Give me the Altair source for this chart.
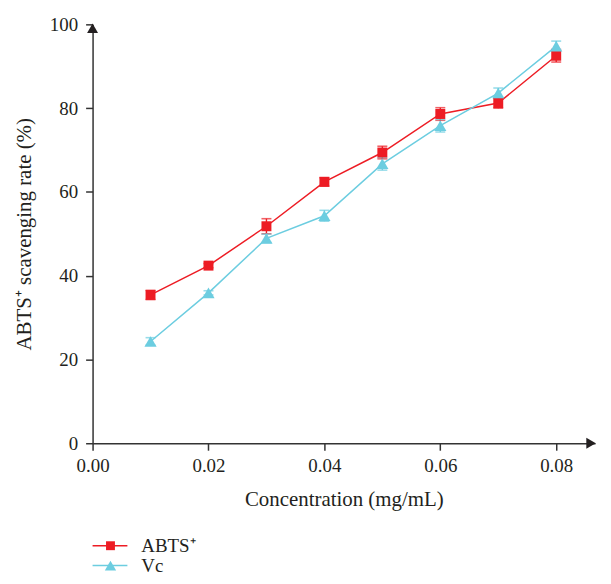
import altair as alt
import pandas as pd

# ---- data ----
conc = [0.01, 0.02, 0.03, 0.04, 0.05, 0.06, 0.07, 0.08]
abts = [35.4, 42.4, 51.8, 62.4, 69.4, 78.6, 81.2, 92.5]
abts_err = [1.1, 0.5, 1.8, 1.0, 1.5, 1.5, 1.2, 1.5]
vc = [24.3, 35.9, 48.9, 54.3, 66.7, 75.8, 83.6, 94.8]
vc_err = [0.9, 0.5, 1.0, 1.3, 1.5, 1.5, 1.2, 1.2]
series_names = ["ABTS\u207a", "Vc"]
x_ticks = [0.0, 0.02, 0.04, 0.06, 0.08]
y_ticks = [0, 20, 40, 60, 80, 100]

RED = "#ED1C24"
CYAN = "#6CCDE0"
INK = "#231F20"
FONT = "Liberation Serif"
XMAX = 0.0867
W, H = 505, 421

rows = []
for name, vals, errs in ((series_names[0], abts, abts_err), (series_names[1], vc, vc_err)):
    for c, v, e in zip(conc, vals, errs):
        rows.append({"series": name, "conc": c, "rate": v, "lo": v - e, "hi": v + e})
df = pd.DataFrame(rows)

xs = alt.Scale(domain=[0, XMAX], nice=False, zero=True)
ys = alt.Scale(domain=[0, 100], nice=False)
xaxis = alt.Axis(values=x_ticks, format=".2f", title="Concentration (mg/mL)",
                 grid=False, tickSize=7, labelPadding=6, titlePadding=14,
                 labelFontSize=19, titleFontSize=21, labelFont=FONT, titleFont=FONT,
                 labelColor=INK, titleColor=INK, titleFontWeight="normal",
                 domainColor="#333333", tickColor="#333333", domainWidth=1.5, tickWidth=1.5,
                 labelFlush=False)
yaxis = alt.Axis(values=y_ticks, title="ABTS\u207a scavenging rate (%)",
                 grid=False, tickSize=7, labelPadding=8, titlePadding=15,
                 labelFontSize=19, titleFontSize=21, labelFont=FONT, titleFont=FONT,
                 labelColor=INK, titleColor=INK, titleFontWeight="normal",
                 domainColor="#333333", tickColor="#333333", domainWidth=1.5, tickWidth=1.5,
                 labelFlush=False)
color = alt.Color("series:N", scale=alt.Scale(domain=series_names, range=[RED, CYAN]), legend=None)

X = alt.X("conc:Q", scale=xs, axis=xaxis)
base = alt.Chart(df)

lines = base.mark_line(strokeWidth=1.5).encode(
    x=X, y=alt.Y("rate:Q", scale=ys, axis=yaxis), color=color, detail="series:N")
bars = base.mark_rule(strokeWidth=1.4).encode(
    x=X, y=alt.Y("lo:Q", scale=ys, axis=yaxis), y2="hi:Q", color=color)
cap_lo = base.mark_tick(orient="horizontal", size=10, thickness=1.6).encode(
    x=X, y=alt.Y("lo:Q", scale=ys, axis=yaxis), color=color)
cap_hi = base.mark_tick(orient="horizontal", size=10, thickness=1.6).encode(
    x=X, y=alt.Y("hi:Q", scale=ys, axis=yaxis), color=color)
pts_a = base.transform_filter(alt.datum.series == series_names[0]).mark_point(
    shape="square", filled=True, size=100, opacity=1, color=RED).encode(
    x=X, y=alt.Y("rate:Q", scale=ys, axis=yaxis))
pts_v = base.transform_filter(alt.datum.series == series_names[1]).mark_point(
    shape="triangle-up", filled=True, size=150, opacity=1, color=CYAN).encode(
    x=X, y=alt.Y("rate:Q", scale=ys, axis=yaxis))

one = pd.DataFrame({"k": [0]})
arrow_y = alt.Chart(one).mark_point(shape="triangle-up", filled=True, size=121, opacity=1,
                                    color=INK, yOffset=4).encode(
    x=alt.X(datum=0, scale=xs, axis=xaxis), y=alt.Y(datum=y_ticks[-1], scale=ys, axis=yaxis))
arrow_x = alt.Chart(one).mark_point(shape="triangle-right", filled=True, size=121, opacity=1,
                                    color=INK, xOffset=-4).encode(
    x=alt.X(datum=XMAX, scale=xs, axis=xaxis), y=alt.Y(datum=0, scale=ys, axis=yaxis))

# ---- legend (bottom-left) ----
leg = []
for i, (name, col, shp, sz) in enumerate(((series_names[0], RED, "square", 80),
                                           (series_names[1], CYAN, "triangle-up", 130))):
    yy = 524 + 20 * i
    leg.append(alt.Chart(one).mark_rule(color=col, strokeWidth=1.5).encode(
        x=alt.value(0), x2=alt.value(35), y=alt.value(yy)))
    leg.append(alt.Chart(one).mark_point(shape=shp, filled=True, size=sz, opacity=1, color=col).encode(
        x=alt.value(18), y=alt.value(yy)))
    leg.append(alt.Chart(one).mark_text(text=name, align="left", baseline="middle", font=FONT,
                                        fontSize=19, color=INK).encode(
        x=alt.value(49), y=alt.value(yy)))

chart = alt.layer(lines, bars, cap_lo, cap_hi, pts_a, pts_v, arrow_y, arrow_x, *leg).properties(
    width=W, height=H,
    padding={"left": 85, "top": 15, "right": 8, "bottom": 132},
    autosize=alt.AutoSizeParams(type="none"),
).configure_view(stroke=None)

chart.save("out.html", embed_options={"renderer": "svg", "actions": False})
